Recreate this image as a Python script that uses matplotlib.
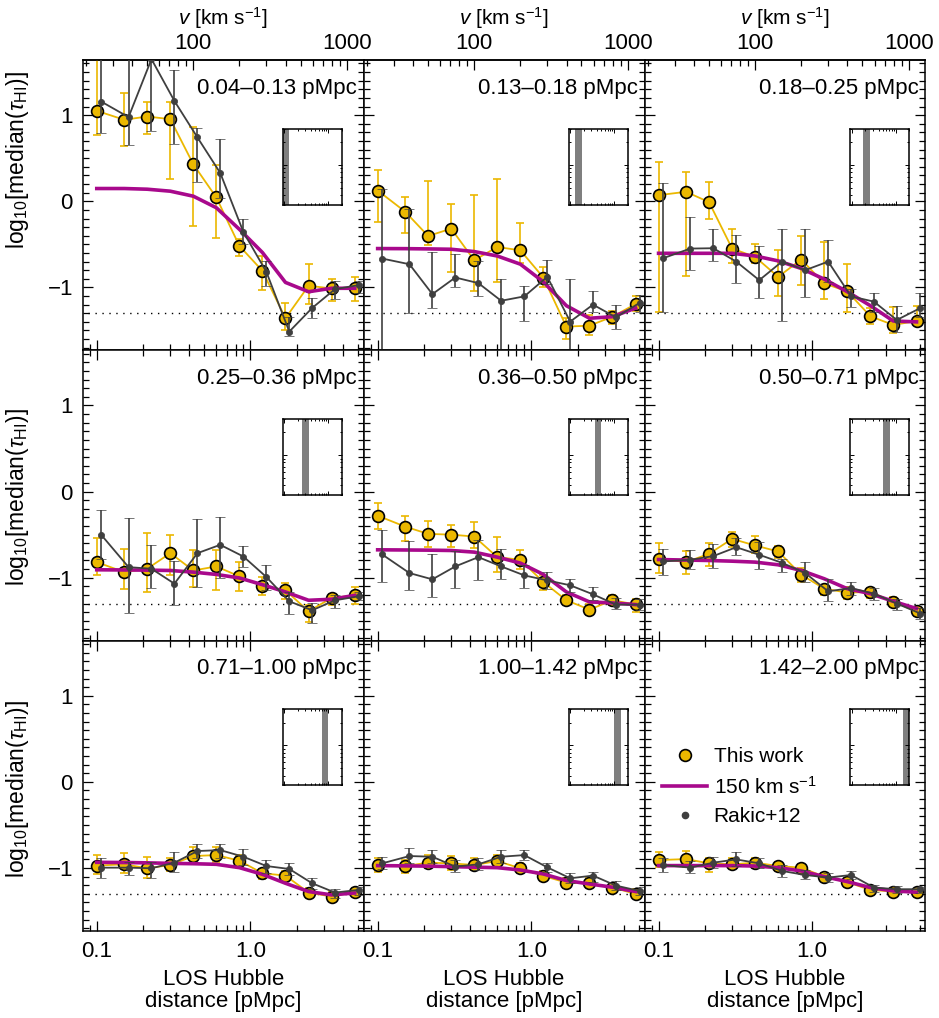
import numpy as np
import matplotlib
matplotlib.use('Agg')
import matplotlib.pyplot as plt
from matplotlib.lines import Line2D
from matplotlib.ticker import LogLocator, MultipleLocator, NullFormatter

plt.rcParams['font.family'] = ['Liberation Sans', 'DejaVu Sans']
plt.rcParams['mathtext.fontset'] = 'custom'
plt.rcParams['mathtext.rm'] = 'Liberation Sans'
plt.rcParams['mathtext.it'] = 'Liberation Sans:italic'
plt.rcParams['mathtext.bf'] = 'Liberation Sans:bold'

H_Z = 236.0  # km/s per pMpc, converts LOS distance to velocity

# transverse distance bins (pMpc)
bin_edges = [0.04, 0.13, 0.18, 0.25, 0.36, 0.50, 0.71, 1.00, 1.42, 2.00]
bin_labels = ['0.04\u20130.13 pMpc', '0.13\u20130.18 pMpc', '0.18\u20130.25 pMpc',
              '0.25\u20130.36 pMpc', '0.36\u20130.50 pMpc', '0.50\u20130.71 pMpc',
              '0.71\u20131.00 pMpc', '1.00\u20131.42 pMpc', '1.42\u20132.00 pMpc']

# LOS Hubble distance of each point (pMpc)
x_this = [0.10, 0.151, 0.213, 0.301, 0.425, 0.600, 0.848, 1.197, 1.69, 2.39, 3.37, 4.77]
x_rakic = [0.107, 0.161, 0.227, 0.32, 0.452, 0.636, 0.90, 1.27, 1.79, 2.52, 3.55, 5.06]

# log10 median tau_HI, this work
this_y = [
    [1.05, 0.946, 0.984, 0.953, 0.429, 0.044, -0.519, -0.808, -1.358, -0.981, -1.012, -1.012],
    [0.125, -0.121, -0.403, -0.318, -0.684, -0.531, -0.569, -0.885, -1.455, -1.444, -1.34, -1.193],
    [0.071, 0.11, -0.01, -0.549, -0.646, -0.877, -0.676, -0.954, -1.046, -1.335, -1.436, -1.39],
    [-0.819, -0.935, -0.896, -0.715, -0.916, -0.869, -0.985, -1.1, -1.146, -1.39, -1.235, -1.205],
    [-0.28, -0.407, -0.491, -0.5, -0.522, -0.761, -0.792, -1.05, -1.262, -1.37, -1.262, -1.31],
    [-0.78, -0.819, -0.723, -0.549, -0.626, -0.695, -0.965, -1.127, -1.173, -1.165, -1.281, -1.39],
    [-0.972, -0.957, -1.003, -0.965, -0.861, -0.85, -0.915, -1.061, -1.088, -1.285, -1.331, -1.273],
    [-0.965, -0.977, -0.938, -0.946, -0.965, -0.919, -1.003, -1.092, -1.169, -1.177, -1.227, -1.3],
    [-0.908, -0.896, -0.946, -0.957, -0.938, -0.977, -0.996, -1.1, -1.165, -1.254, -1.273, -1.281],
]
this_hi = [
    [1.9, 1.26, 1.157, 1.15, 0.857, 0.417, -0.434, -0.635, -1.181, -0.723, -0.904, -0.884],
    [0.368, 0.047, 0.232, -0.029, 0.071, 0.26, -0.257, -0.762, -1.35, -1.32, -1.27, -1.097],
    [0.457, 0.341, 0.22, -0.318, -0.491, -0.561, -0.403, -0.473, -0.723, -1.243, -1.231, -1.22],
    [-0.538, -0.665, -0.483, -0.503, -0.673, -0.673, -0.819, -0.992, -1.061, -1.32, -1.185, -1.108],
    [-0.133, -0.28, -0.345, -0.384, -0.357, -0.522, -0.673, -0.973, -1.2, -1.3, -1.2, -1.243],
    [-0.599, -0.695, -0.599, -0.464, -0.518, -0.634, -0.888, -1.081, -1.108, -1.12, -1.223, -1.339],
    [-0.85, -0.83, -0.869, -0.888, -0.753, -0.753, -0.85, -1.011, -1.034, -1.235, -1.273, -1.227],
    [-0.888, -0.908, -0.85, -0.861, -0.888, -0.85, -0.946, -1.034, -1.111, -1.119, -1.177, -1.246],
    [-0.819, -0.803, -0.88, -0.88, -0.888, -0.927, -0.957, -1.054, -1.127, -1.215, -1.235, -1.242],
]
this_lo = [
    [0.771, 0.637, 0.784, 0.26, -0.288, -0.422, -0.635, -1.031, -1.50, -1.193, -1.155, -1.155],
    [-0.241, -0.364, -0.508, -0.82, -1.04, -0.935, -0.711, -1.0, -1.6, -1.55, -1.424, -1.27],
    [-1.29, -0.873, -0.21, -0.711, -0.711, -1.097, -0.973, -1.135, -1.289, -1.424, -1.53, -1.436],
    [-0.965, -1.135, -1.165, -0.973, -1.108, -1.146, -1.158, -1.2, -1.243, -1.512, -1.312, -1.3],
    [-0.434, -0.569, -0.638, -0.646, -0.65, -0.935, -0.896, -1.146, -1.316, -1.435, -1.316, -1.397],
    [-0.946, -0.954, -0.869, -0.646, -0.711, -0.773, -1.05, -1.2, -1.243, -1.235, -1.339, -1.443],
    [-1.073, -1.061, -1.111, -1.034, -0.946, -0.927, -1.003, -1.127, -1.15, -1.343, -1.381, -1.312],
    [-1.05, -1.061, -1.003, -1.023, -1.023, -0.984, -1.061, -1.15, -1.227, -1.235, -1.281, -1.35],
    [-0.984, -0.984, -1.042, -1.011, -0.996, -1.034, -1.042, -1.15, -1.215, -1.293, -1.312, -1.331],
]

# 150 km/s smoothed model
model_y = [
    [0.148, 0.148, 0.140, 0.117, 0.059, -0.075, -0.326, -0.595, -0.942, -1.05, -1.01, -1.01],
    [-0.549, -0.550, -0.553, -0.557, -0.584, -0.635, -0.73, -0.935, -1.212, -1.358, -1.34, -1.24],
    [-0.604, -0.604, -0.604, -0.604, -0.635, -0.692, -0.78, -0.904, -1.05, -1.212, -1.39, -1.40],
    [-0.908, -0.91, -0.912, -0.916, -0.935, -0.962, -1.003, -1.081, -1.165, -1.262, -1.25, -1.205],
    [-0.676, -0.678, -0.680, -0.684, -0.703, -0.761, -0.83, -0.962, -1.165, -1.281, -1.293, -1.312],
    [-0.789, -0.795, -0.80, -0.808, -0.819, -0.85, -0.916, -1.012, -1.127, -1.185, -1.274, -1.358],
    [-0.934, -0.936, -0.94, -0.946, -0.95, -0.957, -0.996, -1.073, -1.177, -1.273, -1.312, -1.29],
    [-0.972, -0.975, -0.978, -0.984, -0.99, -0.996, -1.023, -1.069, -1.146, -1.185, -1.223, -1.273],
    [-0.972, -0.972, -0.972, -0.972, -0.977, -0.996, -1.034, -1.1, -1.158, -1.227, -1.266, -1.281],
]

# Rakic+12 measurements
rakic_y = [
    [1.157, 0.977, 1.65, 1.165, 0.741, 0.329, -0.357, -0.82, -1.513, -1.239, -1.02, -0.973],
    [-0.665, -0.731, -1.078, -0.885, -0.95, -1.155, -1.104, -0.877, -1.397, -1.2, -1.347, -1.18],
    [-0.661, -0.549, -0.545, -0.7, -0.916, -0.7, -0.8, -0.7, -1.104, -1.165, -1.378, -1.239],
    [-0.503, -0.877, -0.896, -1.069, -0.715, -0.618, -0.754, -0.992, -1.274, -1.378, -1.262, -1.216],
    [-0.73, -0.946, -1.019, -0.869, -0.761, -0.869, -0.973, -1.031, -1.088, -1.193, -1.312, -1.312],
    [-0.811, -0.792, -0.749, -0.646, -0.734, -0.827, -0.946, -1.158, -1.12, -1.185, -1.3, -1.416],
    [-0.996, -0.996, -1.003, -0.938, -0.803, -0.792, -0.869, -0.977, -1.011, -1.177, -1.285, -1.254],
    [-0.946, -0.861, -0.869, -0.984, -0.957, -0.869, -0.85, -0.992, -1.119, -1.088, -1.204, -1.266],
    [-0.965, -0.996, -0.938, -0.9, -0.946, -1.034, -1.081, -1.111, -1.081, -1.227, -1.246, -1.246],
]
rakic_hi = [
    [1.9, 1.9, 1.9, 1.524, 0.85, 0.722, -0.21, -0.69, -1.34, -1.12, -0.92, -0.92],
    [0.144, -0.095, -0.584, -0.615, -0.69, -0.904, -0.988, -0.684, -0.904, -1.04, -1.205, -1.09],
    [0.214, -0.184, -0.318, -0.392, -0.519, -0.326, -0.318, -0.453, -1.02, -1.07, -1.212, -1.07],
    [-0.214, -0.31, -0.618, -0.811, -0.318, -0.291, -0.634, -0.85, -1.165, -1.289, -1.2, -1.165],
    [-0.441, -0.569, -0.73, -0.692, -0.557, -0.665, -0.858, -0.935, -1.019, -1.108, -1.235, -1.25],
    [-0.665, -0.684, -0.607, -0.541, -0.588, -0.78, -0.819, -1.012, -1.05, -1.12, -1.243, -1.351],
    [-0.888, -0.927, -0.927, -0.819, -0.726, -0.726, -0.78, -0.908, -0.946, -1.119, -1.242, -1.215],
    [-0.869, -0.773, -0.792, -0.908, -0.888, -0.792, -0.792, -0.946, -1.061, -1.042, -1.15, -1.215],
    [-0.888, -0.919, -0.869, -0.815, -0.88, -0.965, -1.023, -1.061, -1.034, -1.192, -1.211, -1.215],
]
rakic_lo = [
    [0.792, 0.649, 0.81, 0.668, 0.22, 0.04, -0.50, -0.98, -1.56, -1.35, -1.14, -1.06],
    [-1.9, -1.3, -1.243, -1.0, -1.097, -1.9, -1.386, -0.962, -1.9, -1.29, -1.48, -1.29],
    [-1.29, -0.8, -0.692, -0.954, -1.127, -1.386, -1.108, -0.942, -1.231, -1.282, -1.52, -1.347],
    [-0.78, -1.408, -1.119, -1.32, -1.108, -1.003, -0.877, -1.146, -1.416, -1.52, -1.35, -1.262],
    [-1.05, -1.146, -1.223, -1.116, -1.023, -1.012, -1.116, -1.127, -1.165, -1.262, -1.366, -1.378],
    [-0.973, -0.896, -0.888, -0.734, -0.896, -0.935, -1.05, -1.274, -1.2, -1.262, -1.37, -1.474],
    [-1.119, -1.081, -1.111, -1.042, -0.888, -0.88, -0.965, -1.061, -1.081, -1.242, -1.343, -1.312],
    [-1.011, -0.946, -0.946, -1.042, -1.023, -0.946, -0.908, -1.042, -1.177, -1.158, -1.254, -1.312],
    [-1.042, -1.061, -1.003, -0.976, -1.003, -1.1, -1.131, -1.158, -1.127, -1.273, -1.293, -1.293],
]

noise_level = -1.3

GOLD = '#EBB800'
DARK = '#3f3f3f'
MAGENTA = '#A8098C'
GREY = '#7f7f7f'

W, H = 939, 1018
LEFT, TOP = 82.7, 60.0
PW, PH = 280.9, 290.3


def style_axis(ax, row, col):
    ax.set_xscale('log')
    ax.set_xlim(0.081, 5.45)
    ax.set_ylim(-1.73, 1.64)
    ax.set_xticks([0.1, 1.0], labels=['0.1', '1.0'])
    ax.xaxis.set_minor_locator(LogLocator(base=10, subs=np.arange(2, 10)))
    ax.xaxis.set_minor_formatter(NullFormatter())
    ax.set_yticks([-1, 0, 1], labels=['\u22121', '0', '1'])
    ax.yaxis.set_minor_locator(MultipleLocator(0.1))
    ax.tick_params(which='both', direction='in', top=(row > 0), right=True,
                   labelbottom=(row == 2), labelleft=(col == 0),
                   labelsize=16, width=0.9)
    ax.tick_params(which='major', length=7.5, pad=7)
    ax.tick_params(which='minor', length=4)
    for sp in ax.spines.values():
        sp.set_linewidth(1.1)


def draw_inset(ax, col, i):
    x0 = [0.712, 0.730, 0.733][col]
    iax = ax.inset_axes([x0, 0.502, 0.21, 0.262])
    iax.set_xscale('log')
    iax.set_yscale('log')
    iax.set_xlim(0.0914, 2.0)
    iax.set_ylim(0.3, 3.0)
    iax.axvspan(bin_edges[i], bin_edges[i + 1], color=GREY, lw=0)
    iax.tick_params(which='both', direction='in', top=True, right=True,
                    labelbottom=False, labelleft=False, width=0.7)
    iax.tick_params(which='major', length=3)
    iax.tick_params(which='minor', length=1.5)
    iax.xaxis.set_minor_formatter(NullFormatter())
    iax.yaxis.set_minor_formatter(NullFormatter())
    for sp in iax.spines.values():
        sp.set_linewidth(1.1)


fig = plt.figure(figsize=(W / 100, H / 100), dpi=100)

for i in range(9):
    row, col = divmod(i, 3)
    ax = fig.add_axes([(LEFT + col * PW) / W, (H - TOP - (row + 1) * PH) / H,
                       PW / W, PH / H])
    style_axis(ax, row, col)

    ax.axhline(noise_level, xmin=0.02, color='k', ls=(0, (1, 4)), lw=1.0, zorder=1)

    y = np.array(this_y[i])
    yerr = [y - np.array(this_lo[i]), np.array(this_hi[i]) - y]
    ax.errorbar(x_this, y, yerr=yerr, fmt='-o', color=GOLD, mfc=GOLD, mec='k',
                mew=1.2, ms=8.5, lw=1.3, elinewidth=1.2, capsize=3, capthick=1.2,
                zorder=2)

    ax.plot(x_this, model_y[i], color=MAGENTA, lw=2.6, zorder=3)

    yr = np.array(rakic_y[i])
    yerr_r = [yr - np.array(rakic_lo[i]), np.array(rakic_hi[i]) - yr]
    ax.errorbar(x_rakic, yr, yerr=yerr_r, fmt='-o', color=DARK, mec=DARK, ms=4.5,
                mew=0.5, lw=1.3, elinewidth=1.2, capsize=3.4, capthick=1.3,
                zorder=4)

    ax.text(0.976, 0.903, bin_labels[i], transform=ax.transAxes, ha='right',
            va='center', fontsize=16)

    draw_inset(ax, col, i)

    if col == 0:
        ax.set_ylabel(r'log$_{10}$[median($\tau_{\rm HI}$)]', fontsize=16.5)
        ax.yaxis.set_label_coords(-0.185, [0.655, 0.493, 0.49][row])
    if row == 2:
        ax.set_xlabel('LOS Hubble\ndistance [pMpc]', fontsize=16, linespacing=1.05)
        ax.xaxis.set_label_coords(0.5, -0.132)
    if row == 0:
        sec = ax.secondary_xaxis('top', functions=(lambda d: d * H_Z, lambda v: v / H_Z))
        sec.set_xticks([100, 1000], labels=['100', '1000'])
        sec.xaxis.set_minor_locator(LogLocator(base=10, subs=np.arange(2, 10)))
        sec.xaxis.set_minor_formatter(NullFormatter())
        sec.tick_params(which='both', direction='in', labelsize=16, width=0.9)
        sec.tick_params(which='major', length=7.5, pad=4)
        sec.tick_params(which='minor', length=4)
        sec.spines['top'].set_linewidth(1.1)
        sec.set_xlabel(r'$v$ [km s$^{-1}$]', fontsize=15, labelpad=6)

    if i == 8:
        handles = [
            Line2D([], [], ls='none', marker='o', color=GOLD, mfc=GOLD, mec='k',
                   mew=1.2, ms=8.5),
            Line2D([], [], color=MAGENTA, lw=2.6),
            Line2D([], [], ls='none', marker='o', color=DARK, ms=4.5),
        ]
        ax.legend(handles, ['This work', r'150 km s$^{-1}$', 'Rakic+12'],
                  loc='upper left', bbox_to_anchor=(0.061, 0.632), frameon=False,
                  fontsize=15, handlelength=2.2, handletextpad=0.3,
                  labelspacing=0.45, borderpad=0, borderaxespad=0)

fig.savefig('out.png', dpi=100)
